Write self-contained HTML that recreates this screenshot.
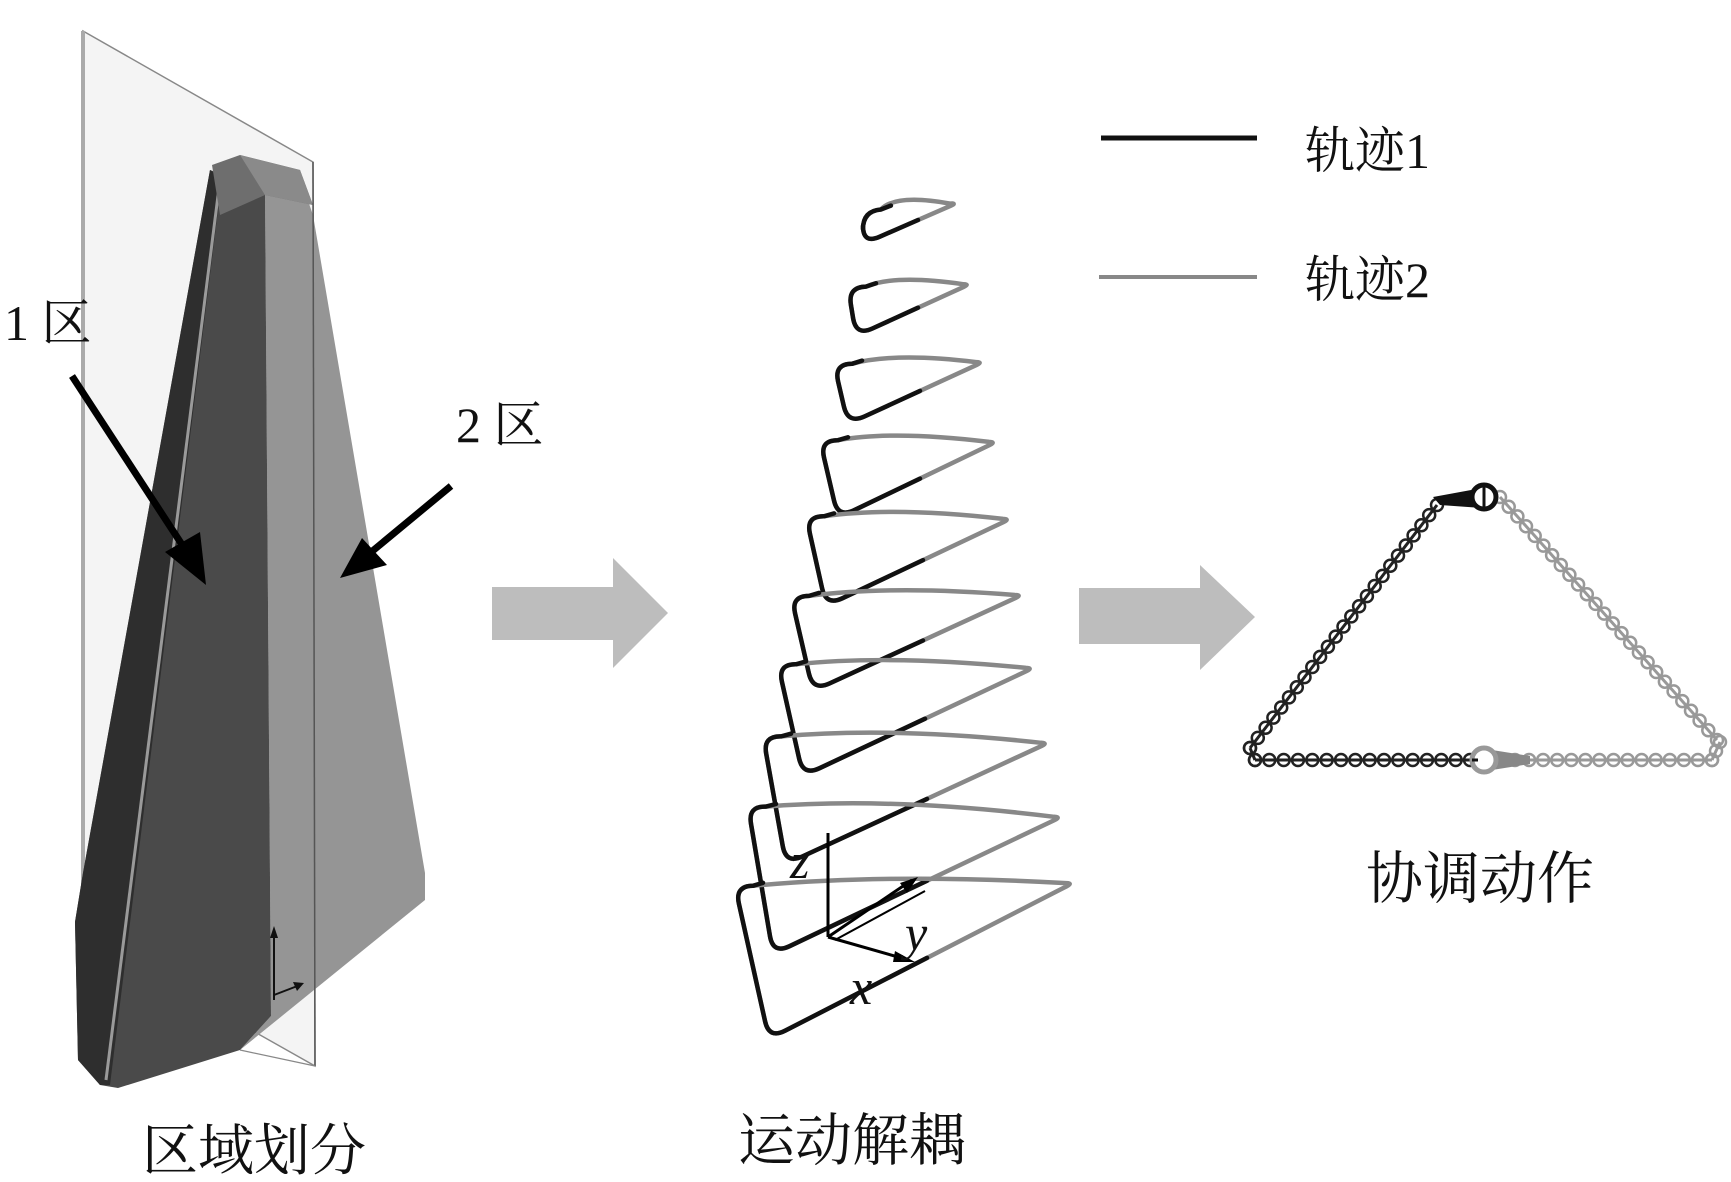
<!DOCTYPE html>
<html><head><meta charset="utf-8"><style>
html,body{margin:0;padding:0;background:#fff;}
svg{display:block;}
.cj{font-family:"Liberation Serif","Noto Serif CJK SC",serif;fill:#111;}
</style></head><body>
<svg id="s" width="1731" height="1182" viewBox="0 0 1731 1182" xmlns="http://www.w3.org/2000/svg">
<!-- plane -->
<polygon points="83,31 313,162 315,1066 83,935" fill="#f4f4f4" stroke="#888" stroke-width="1.5"/>
<line x1="83" y1="31" x2="83" y2="935" stroke="#aaa" stroke-width="4"/>
<!-- pyramid -->
<polygon points="265,190 300,178 313,215 425,873 425,900 240,1050 271,1016" fill="#959595"/>
<polygon points="210,170 265,190 271,1016 240,1050 118,1088 100,1085 78,1060 75,922 83,873" fill="#4a4a4a"/>
<polygon points="210,170 222,178 110,1085 100,1085 78,1060 75,922 83,873" fill="#2e2e2e"/>
<line x1="220" y1="180" x2="106" y2="1080" stroke="#9a9a9a" stroke-width="3"/>
<polygon points="212,165 240,155 300,170 313,205 265,195 220,215" fill="#6e6e6e"/>
<polygon points="240,155 300,170 313,205 265,195" fill="#8a8a8a"/>
<line x1="313" y1="162" x2="315" y2="1066" stroke="#555" stroke-width="1.5"/>
<line x1="240" y1="1050" x2="315" y2="1066" stroke="#888" stroke-width="1.2"/>
<!-- small axis -->
<line x1="274" y1="1000" x2="274" y2="932" stroke="#111" stroke-width="2"/>
<polygon points="274,926 270,938 278,938" fill="#111"/>
<line x1="274" y1="995" x2="300" y2="985" stroke="#111" stroke-width="2"/>
<polygon points="304,983 293,982 297,991" fill="#111"/>
<!-- labels & arrows -->
<text class="cj" x="4" y="340" font-size="50">1 区</text>
<line x1="72" y1="376" x2="192" y2="560" stroke="#000" stroke-width="7"/>
<polygon points="206,585 165,552 200,532" fill="#000"/>
<text class="cj" x="456" y="442" font-size="50">2 区</text>
<line x1="451" y1="486" x2="358" y2="563" stroke="#000" stroke-width="7"/>
<polygon points="340,578 362,538 387,565" fill="#000"/>
<!-- big gray arrows -->
<polygon points="492,587 613,587 613,558 668,613 613,668 613,640 492,640" fill="#bdbdbd"/>
<polygon points="1079,588 1200,588 1200,565 1255,617 1200,670 1200,644 1079,644" fill="#bdbdbd"/>
<!-- legend -->
<line x1="1101" y1="138" x2="1257" y2="138" stroke="#111" stroke-width="5"/>
<line x1="1099" y1="277" x2="1257" y2="277" stroke="#888" stroke-width="4"/>
<text class="cj" x="1305" y="168" font-size="50">轨迹1</text>
<text class="cj" x="1305" y="297" font-size="50">轨迹2</text>
<g id="loops"></g>
<!-- xyz axis -->
<line x1="828" y1="937" x2="828" y2="833" stroke="#000" stroke-width="3"/>
<line x1="828" y1="937" x2="905" y2="959" stroke="#000" stroke-width="3"/>
<polygon points="915,962 895,951 893,962" fill="#000"/>
<line x1="828" y1="937" x2="912" y2="880" stroke="#000" stroke-width="3"/>
<line x1="835" y1="940" x2="925" y2="891" stroke="#000" stroke-width="2"/>
<polygon points="918,877 900,883 907,893" fill="#000"/>
<text x="790" y="878" font-size="50" font-style="italic" font-family="Liberation Serif,serif" fill="#111">z</text>
<text x="905" y="950" font-size="50" font-style="italic" font-family="Liberation Serif,serif" fill="#111">y</text>
<text x="850" y="1004" font-size="50" font-style="italic" font-family="Liberation Serif,serif" fill="#111">x</text>
<g id="chain"></g>
<!-- captions -->
<text class="cj" x="142" y="1170" font-size="56">区域划分</text>
<text class="cj" x="738" y="1160" font-size="57">运动解耦</text>
<text class="cj" x="1366" y="898" font-size="57">协调动作</text>
</svg>
<script>
(function(){
function u(a,b){var dx=b[0]-a[0],dy=b[1]-a[1],l=Math.hypot(dx,dy);return [dx/l,dy/l];}
function add(p,v,r){return [p[0]+v[0]*r,p[1]+v[1]*r];}
function f(p){return p[0].toFixed(1)+","+p[1].toFixed(1);}
var data=[[863,197,957,203,877,248,918],[848,273,970,284,870,340,918],[834,350,983,362,862,428,920],
[820,426,996,442,852,522,920],[806,502,1010,519,840,610,923],[791,582,1022,595,827,695,923],
[778,650,1033,668,817,780,925],[763,722,1048,743,800,868,927],[748,792,1061,817,787,958,927],[735,872,1073,883,783,1043,927]];
var g=document.getElementById("loops"),h="";
data.forEach(function(d){
 var P1=[d[0],d[1]+14],P2=[d[4]-14,d[5]-4],P3=[d[2],d[3]];
 var r=18,r3=7;
 var a1=add(P1,u(P1,P2),r),b1=add(P1,u(P1,P3),r);
 var a2=add(P2,u(P2,P1),r),b2=add(P2,u(P2,P3),r);
 var a3=add(P3,u(P3,P1),r3),c3=add(P3,u(P3,P2),r3);
 var cm=[(b1[0]+a3[0])/2-20,Math.min(b1[1],a3[1])-10];
 var t=(d[6]-P3[0])/(P2[0]-P3[0]);var S=[d[6],P3[1]+(P2[1]-P3[1])*t];
 var gp="M"+f(b1)+" Q"+f(cm)+" "+f(a3)+" Q"+f(P3)+" "+f(c3)+" L"+f(b2)+" Q"+f(P2)+" "+f(a2)+" L"+f(a1)+" Q"+f(P1)+" "+f(b1);
 h+='<path d="'+gp+'" fill="none" stroke="#888" stroke-width="4.5" stroke-linejoin="round"/>';
 var e=add(b1,u(P1,P3),10);e[1]-=3;
 var bp="M"+f(S)+" L"+f(b2)+" Q"+f(P2)+" "+f(a2)+" L"+f(a1)+" Q"+f(P1)+" "+f(b1)+" L"+f(e);
 h+='<path d="'+bp+'" fill="none" stroke="#111" stroke-width="4.5" stroke-linejoin="round" stroke-linecap="round"/>';
});
g.innerHTML=h;
var c=document.getElementById("chain"),s="";
function seg(A,B,col,sp){var L=Math.hypot(B[0]-A[0],B[1]-A[1]),n=Math.max(1,Math.round(L/sp));
 s+='<line x1="'+A[0]+'" y1="'+A[1]+'" x2="'+B[0]+'" y2="'+B[1]+'" stroke="'+col+'" stroke-width="3"/>';
 for(var i=0;i<=n;i++){var x=A[0]+(B[0]-A[0])*i/n,y=A[1]+(B[1]-A[1])*i/n;
 s+='<circle cx="'+x.toFixed(1)+'" cy="'+y.toFixed(1)+'" r="6" fill="none" stroke="'+col+'" stroke-width="2.5"/>';}}
seg([1250,748],[1437,505],"#222",13);
seg([1255,760],[1470,760],"#222",14);
seg([1500,497],[1717,740],"#999",13);
seg([1515,760],[1712,760],"#999",14);
seg([1712,760],[1720,742],"#999",10);
seg([1250,748],[1255,760],"#222",10);
s+='<polygon points="1433,497 1482,488 1482,508 1440,505" fill="#111"/><circle cx="1484" cy="497" r="12" fill="#fff" stroke="#111" stroke-width="5"/><line x1="1484" y1="485" x2="1484" y2="509" stroke="#111" stroke-width="3"/>';
s+='<polygon points="1492,750 1530,756 1530,764 1492,770" fill="#888"/><circle cx="1484" cy="760" r="12" fill="#fff" stroke="#999" stroke-width="5"/><line x1="1478" y1="760" x2="1472" y2="760" stroke="#111" stroke-width="3"/>';
c.innerHTML=s;
})();
</script>
</body></html>
